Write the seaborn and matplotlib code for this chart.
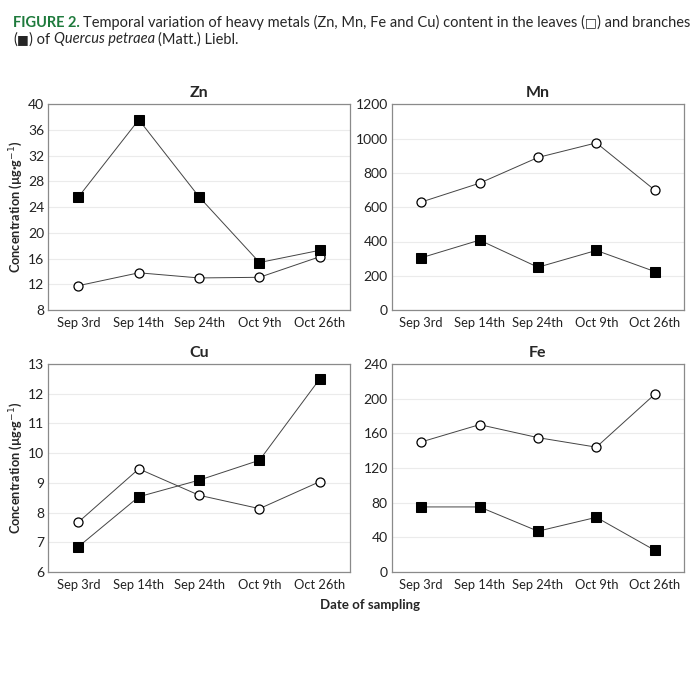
import numpy as np
import pandas as pd
import matplotlib.pyplot as plt
import seaborn as sns

# sampling dates
dates = ['Sep 3rd', 'Sep 14th', 'Sep 24th', 'Oct 9th', 'Oct 26th']

# leaves (open circles) and branches (filled squares)
zn_leaves = [11.8, 13.8, 13.0, 13.1, 16.3]
zn_branches = [25.6, 37.6, 25.6, 15.4, 17.3]
mn_leaves = [630, 740, 890, 975, 700]
mn_branches = [305, 408, 250, 348, 225]
cu_leaves = [7.68, 9.47, 8.58, 8.13, 9.04]
cu_branches = [6.85, 8.53, 9.09, 9.76, 12.5]
fe_leaves = [150, 170, 155, 144, 205]
fe_branches = [75, 75, 47, 63, 25]

zn_ticks = list(range(8, 41, 4))
mn_ticks = list(range(0, 1201, 200))
cu_ticks = list(range(6, 14, 1))
fe_ticks = list(range(0, 241, 40))

sns.set_theme(style='white')
plt.rcParams['font.family'] = ['Lato', 'DejaVu Sans']

fig = plt.figure(figsize=(7, 7), dpi=100)

panels = [
    ('Zn', zn_leaves, zn_branches, zn_ticks, [0.069, 0.557, 0.431, 0.294], True),
    ('Mn', mn_leaves, mn_branches, mn_ticks, [0.560, 0.557, 0.417, 0.294], False),
    ('Cu', cu_leaves, cu_branches, cu_ticks, [0.069, 0.183, 0.431, 0.297], True),
    ('Fe', fe_leaves, fe_branches, fe_ticks, [0.560, 0.183, 0.417, 0.297], False),
]

for name, leaves, branches, ticks, rect, ylab in panels:
    ax = fig.add_axes(rect)
    df = pd.DataFrame({
        'pos': list(range(len(dates))) * 2,
        'value': leaves + branches,
        'part': ['leaves'] * len(dates) + ['branches'] * len(dates),
    })
    for d in ticks:
        ax.axhline(d, color='#ebebeb', lw=0.8, zorder=0)
    sns.lineplot(data=df[df.part == 'leaves'], x='pos', y='value', ax=ax,
                 color='#444444', lw=0.7, marker='o', markersize=6.5,
                 markerfacecolor='white', markeredgecolor='black', markeredgewidth=0.9)
    sns.lineplot(data=df[df.part == 'branches'], x='pos', y='value', ax=ax,
                 color='#444444', lw=0.7, marker='s', markersize=7.5,
                 markerfacecolor='black', markeredgecolor='black')
    ax.set_xlim(-0.5, 4.5)
    ax.set_ylim(ticks[0], ticks[-1])
    ax.set_yticks(ticks)
    ax.set_xticks(range(len(dates)))
    ax.set_xticklabels(dates)
    ax.tick_params(axis='both', labelsize=9.3, colors='#222222', length=0, pad=3)
    ax.tick_params(axis='y', labelsize=10)
    ax.tick_params(axis='x', length=4, color='#999999', direction='in', pad=5)
    for s in ax.spines.values():
        s.set_color('#8a8a8a')
        s.set_linewidth(0.9)
    ax.set_xlabel('')
    ax.set_ylabel('Concentration (µg·g$^{-1}$)' if ylab else '', fontsize=9.2,
                  fontweight='bold', labelpad=2)
    ax.set_title(name, fontsize=11.5, fontweight='bold', pad=5)

fig.text(0.528, 0.136, 'Date of sampling', ha='center', va='center',
         fontsize=9.5, fontweight='bold')

# caption, pieces placed one after another
renderer = fig.canvas.get_renderer()
inv = fig.transFigure.inverted()


def put(x, y, s, size=10.5, **kw):
    t = fig.text(x, y, s, fontsize=size, **kw)
    bb = t.get_window_extent(renderer=renderer)
    return inv.transform((bb.x1, bb.y0))[0]


y1, y2 = 0.962, 0.938
x = put(0.019, y1, 'FIGURE 2.', color='#1e7a3c', fontweight='bold')
x = put(x + 0.004, y1, 'Temporal variation of heavy metals (Zn, Mn, Fe and Cu) content in the leaves (')
x = put(x, y1, '□', size=9, family='DejaVu Sans')
x = put(x, y1, ') and branches')
x = put(0.019, y2, '(')
x = put(x, y2, '■', size=9, family='DejaVu Sans')
x = put(x, y2, ') of ')
x = put(x, y2, 'Quercus petraea', style='italic')
x = put(x + 0.004, y2, '(Matt.) Liebl.')

fig.savefig('out.png', dpi=100)
